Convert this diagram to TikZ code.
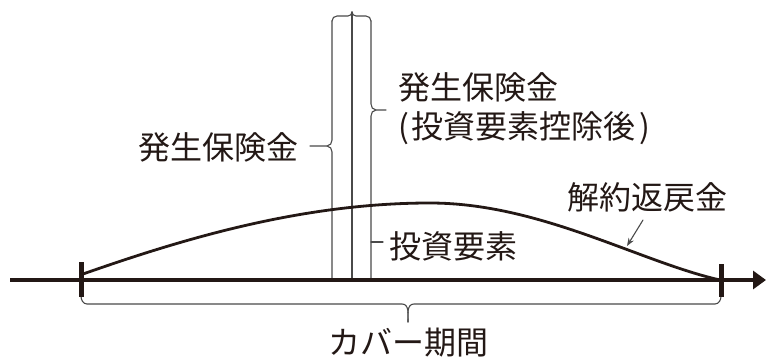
\documentclass[tikz,border=0pt]{standalone}
\usepackage{fontspec}
\setmainfont{Noto Sans CJK JP}
\usetikzlibrary{arrows.meta}
\definecolor{ink}{HTML}{231815}
\definecolor{thin}{HTML}{4A4A4A}
\begin{document}
\begin{tikzpicture}[x=1pt,y=-1pt,
  lbl/.style={inner sep=0pt,text=ink,font=\fontsize{32}{36}\selectfont},
  thinline/.style={draw=thin,line width=1.1pt,line cap=round,line join=round},
  axisline/.style={draw=ink,line width=4.5pt},
  tickline/.style={draw=ink,line width=5pt},
  curveline/.style={draw=ink,line width=2.8pt,line cap=round}]
\useasboundingbox (0,0) rectangle (767,358);

% coordinates
\coordinate (axL) at (10,280);
\coordinate (axR) at (766,280);
\coordinate (tL) at (81,280);
\coordinate (tR) at (721,280);
\coordinate (cS) at (83,274);
\coordinate (cP) at (430,203);
\coordinate (cE) at (720,280);

% rectangle-like columns
\coordinate (Lt) at (332,21);
\coordinate (Lb) at (332,280);
\coordinate (Mt) at (352,12);
\coordinate (Mb) at (352,280);
\coordinate (Rt) at (371,21);
\coordinate (Rb) at (371,280);

% middle line
\draw[thinline] (Mt) -- (Mb);
% top brace
\draw[thinline] (Lt) to[out=90,in=180] (337,16) -- (348,16) to[out=0,in=270] (Mt);
\draw[thinline] (Rt) to[out=90,in=0] (366,16) -- (356,16) to[out=180,in=270] (Mt);

% left brace
\coordinate (lbtip) at (310,146);
\draw[thinline] (Lt) -- (332,140) to[out=270,in=0] (327,146) -- (lbtip);
\draw[thinline] (Lb) -- (332,152) to[out=90,in=0] (327,146);

% right upper brace
\coordinate (rbtip) at (386,110);
\draw[thinline] (Rt) -- (371,104) to[out=270,in=180] (376,110) -- (rbtip);
\draw[thinline] (Rb) -- (371,116) to[out=90,in=180] (376,110);

% right lower tick
\coordinate (rtk) at (383,242);
\draw[thinline] (371,242) -- (rtk);

% bottom brace
\coordinate (bbtip) at (408,322);
\draw[thinline] (81,296) to[out=270,in=180] (87,304) -- (402,304) to[out=0,in=90] (bbtip);
\draw[thinline] (721,296) to[out=270,in=0] (715,304) -- (414,304) to[out=180,in=90] (bbtip);

% axis
\draw[axisline,-{Triangle[length=13pt,width=18pt]}] (axL) -- (axR);
\draw[tickline] (81,262) -- (81,297);
\draw[tickline] (721,264) -- (721,297);

% curve
\draw[curveline] (cS) .. controls (180,240) and (300,203) .. (cP)
  .. controls (540,203) and (640,262) .. (cE);

% labels
\node[lbl] (hl) at (218,147) {発生保険金};
\node[lbl,anchor=west] (hr1) at (398,87) {発生保険金};
\node[lbl,anchor=west] (hr2) at (398,128) {(\hspace{3pt}投資要素控除後\hspace{3pt})};
\node[lbl,anchor=west] (inv) at (389,246) {投資要素};
\node[lbl] (surr) at (647,197) {解約返戻金};
\node[lbl] (cov) at (408,343) {カバー期間};

% annotation arrow
\coordinate (arS) at (643,220);
\coordinate (arE) at (627,246);
\draw[thinline,-{Stealth[length=8pt,width=6pt]}] (arS) -- (arE);
\end{tikzpicture}
\end{document}
